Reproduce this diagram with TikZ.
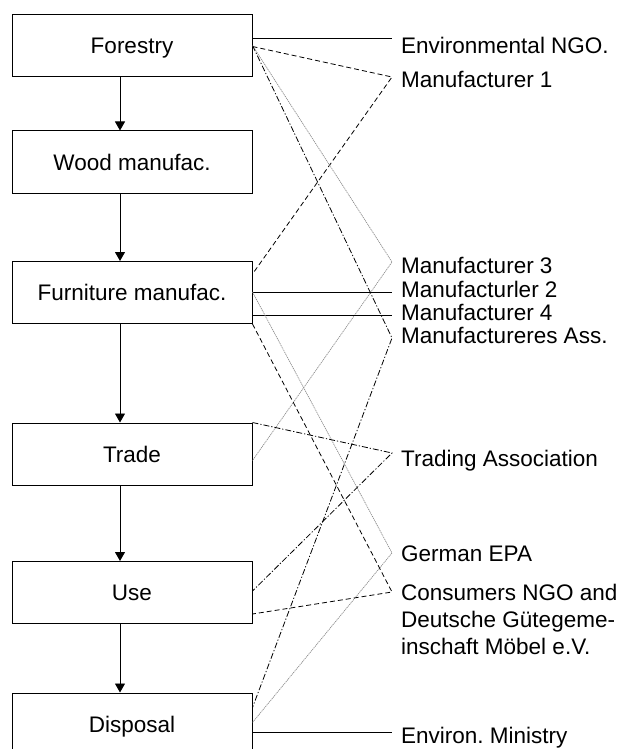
\documentclass[tikz,border=0pt]{standalone}
\usepackage{fontspec}
\setmainfont{Liberation Sans}
\usetikzlibrary{arrows.meta,calc}
\begin{document}
\frenchspacing
\begin{tikzpicture}[x=1pt,y=-1pt,
  stagebox/.style={draw=black,line width=1pt,minimum width=240pt,minimum height=62pt,
    inner sep=0pt,text height=16pt,text depth=0pt,font=\fontsize{22.5pt}{27pt}\selectfont},
  lab/.style={anchor=base west,inner sep=0pt,font=\fontsize{22.5pt}{27pt}\selectfont},
  flow/.style={draw=black,line width=0.9pt,-{Triangle[length=9pt,width=10pt]}},
  solidl/.style={draw=black,line width=0.8pt},
  dashl/.style={draw=black,line width=0.8pt,dash pattern=on 5pt off 3pt},
  dotl/.style={draw=black!45,line width=0.7pt,dash pattern=on 1.2pt off 0.8pt},
  dashdotl/.style={draw=black,line width=0.8pt,dash pattern=on 6pt off 2pt on 1.2pt off 2pt}]
\useasboundingbox (0,0) rectangle (625,749);
% stages
\node[stagebox] (forestry) at (132,46) {Forestry};
\node[stagebox] (wood) at (132,162) {Wood manufac.};
\node[stagebox] (furn) at (132,292.5) {Furniture manufac.};
\node[stagebox] (trade) at (132,454) {Trade};
\node[stagebox] (use) at (132,592.5) {Use};
\node[stagebox] (disp) at (132,724) {Disposal};
% arrows
\coordinate (ax) at (120,0);
\draw[flow] (forestry.south -| ax) -- (wood.north -| ax);
\draw[flow] (wood.south -| ax) -- (furn.north -| ax);
\draw[flow] (furn.south -| ax) -- (trade.north -| ax);
\draw[flow] (trade.south -| ax) -- (use.north -| ax);
\draw[flow] (use.south -| ax) -- (disp.north -| ax);
% vertices
\coordinate (vEnv) at (392,38);
\coordinate (vM1) at (392,77);
\coordinate (vM3) at (392,262);
\coordinate (vM2) at (392,292);
\coordinate (vM4) at (392,315);
\coordinate (vAss) at (392,338);
\coordinate (vTrad) at (392,453);
\coordinate (vEPA) at (392,553);
\coordinate (vCons) at (392,592);
\coordinate (vMin) at (392,732);
% connectors
\draw[solidl] (forestry.east |- vEnv) -- (vEnv);
\draw[dashl] ($(forestry.north east)+(0,32)$) -- (vM1) -- ($(furn.north east)+(0,13)$);
\draw[dotl] ($(forestry.north east)+(0,31)$) -- (vM3) -- ($(trade.north east)+(0,38)$);
\draw[dashdotl] ($(forestry.north east)+(0,31)$) -- (vAss) -- ($(disp.north east)+(0,15)$);
\draw[solidl] (furn.east |- vM2) -- (vM2);
\draw[solidl] (furn.east |- vM4) -- (vM4);
\draw[dotl] ($(furn.north east)+(0,31)$) -- (vEPA) -- ($(disp.north east)+(0,30)$);
\draw[dashl] (furn.south east) -- (vCons) -- ($(use.north east)+(0,53)$);
\draw[dashdotl] (trade.north east) -- (vTrad) -- ($(use.north east)+(0,30)$);
\draw[solidl] (disp.east |- vMin) -- (vMin);
% labels
\node[lab] (lEnv) at (401,54) {Environmental NGO.};
\node[lab] (lM1) at (401,88) {Manufacturer 1};
\node[lab] (lM3) at (401,273) {Manufacturer 3};
\node[lab] (lM2) at (401,297) {Manufacturler 2};
\node[lab] (lM4) at (401,320) {Manufacturer 4};
\node[lab] (lAss) at (401,343) {Manufactureres Ass.};
\node[lab] (lTrad) at (401,466) {Trading Association};
\node[lab] (lEPA) at (401,561) {German EPA};
\node[lab] (lCons1) at (401,600) {Consumers NGO and};
\node[lab] (lCons2) at (401,627) {Deutsche Gütegeme-};
\node[lab] (lCons3) at (401,654) {inschaft Möbel e.V.};
\node[lab] (lMin) at (401,743) {Environ. Ministry};
\end{tikzpicture}
\end{document}
